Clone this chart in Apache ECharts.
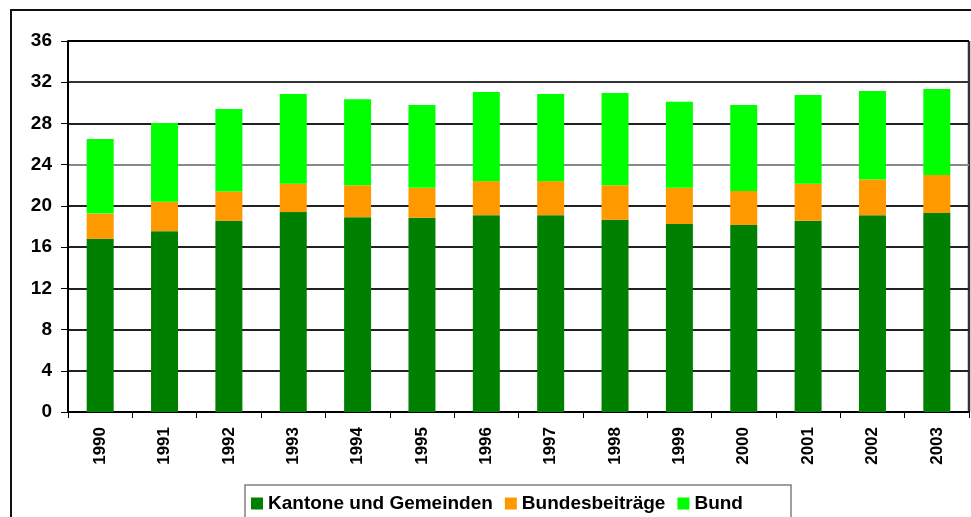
<!DOCTYPE html>
<html>
<head>
<meta charset="utf-8">
<script src="https://cdn.jsdelivr.net/npm/echarts@6/dist/echarts.min.js"></script>
<style>
  html, body { margin: 0; padding: 0; background: #fff; }
  #chart { width: 971px; height: 517px; }
</style>
</head>
<body>
<div id="chart"></div>
<script>
// Jahre
var years = ['1990', '1991', '1992', '1993', '1994', '1995', '1996', '1997', '1998', '1999', '2000', '2001', '2002', '2003'];
// Werte
var kantone = [16.8, 17.55, 18.55, 19.4, 18.9, 18.85, 19.1, 19.1, 18.65, 18.25, 18.15, 18.55, 19.1, 19.3];
var bundesbeitraege = [2.45, 2.85, 2.85, 2.75, 3.1, 2.9, 3.3, 3.3, 3.35, 3.5, 3.3, 3.6, 3.45, 3.7];
var bund = [7.25, 7.65, 8.0, 8.7, 8.35, 8.05, 8.65, 8.45, 8.95, 8.35, 8.35, 8.6, 8.6, 8.35];

var chart = echarts.init(document.getElementById('chart'));

var font = "'Liberation Sans', Arial, sans-serif";

var option = {
    animation: false,
    textStyle: { fontFamily: font },
    graphic: [
        { // aeusserer Rahmen
            type: 'rect', z: -1,
            shape: { x: 11, y: 10, width: 1000, height: 560 },
            style: { fill: 'none', stroke: '#111', lineWidth: 2 }
        },
        { // Legendenrahmen
            type: 'rect', z: -1,
            shape: { x: 245, y: 485, width: 546, height: 60 },
            style: { fill: '#fff', stroke: '#808080', lineWidth: 1.5 }
        },
        { // rechter Rand Plotfläche
            type: 'line',
            shape: { x1: 969, y1: 41, x2: 969, y2: 412 },
            style: { stroke: '#333', lineWidth: 2.5 }
        }
    ],
    legend: {
        left: 251,
        top: 494,
        padding: 0,
        itemWidth: 12,
        itemHeight: 12,
        itemGap: 12,
        icon: 'rect',
        textStyle: { fontSize: 19, fontWeight: 'bold', color: '#000', fontFamily: font },
        data: ['Kantone und Gemeinden', 'Bundesbeiträge', 'Bund']
    },
    grid: {
        left: 68,
        top: 41,
        right: 2,
        bottom: 105
    },
    xAxis: {
        type: 'category',
        data: years,
        axisLine: { lineStyle: { color: '#000', width: 2 } },
        axisTick: { show: true, length: 6, lineStyle: { color: '#000' } },
        axisLabel: {
            rotate: 90,
            margin: 15,
            fontSize: 17,
            fontWeight: 'bold',
            color: '#000',
            fontFamily: font
        }
    },
    yAxis: {
        type: 'value',
        min: 0,
        max: 36,
        interval: 4,
        axisLine: { show: true, lineStyle: { color: '#000', width: 2 } },
        axisTick: { show: true, length: 7, lineStyle: { color: '#000' } },
        axisLabel: {
            margin: 16,
            fontSize: 19,
            fontWeight: 'bold',
            color: '#000',
            fontFamily: font
        },
        splitLine: { show: true, lineStyle: { color: ['#000', '#222', '#222', '#222', '#222', '#222', '#888', '#222', '#333', '#000'], width: 2 } }
    },
    series: [
        {
            name: 'Kantone und Gemeinden',
            type: 'bar',
            stack: 'total',
            barWidth: 27,
            itemStyle: { color: '#008000' },
            data: kantone
        },
        {
            name: 'Bundesbeiträge',
            type: 'bar',
            stack: 'total',
            barWidth: 27,
            itemStyle: { color: '#FF9900' },
            data: bundesbeitraege
        },
        {
            name: 'Bund',
            type: 'bar',
            stack: 'total',
            barWidth: 27,
            itemStyle: { color: '#00FF00' },
            data: bund
        }
    ]
};

chart.setOption(option);
</script>
</body>
</html>
